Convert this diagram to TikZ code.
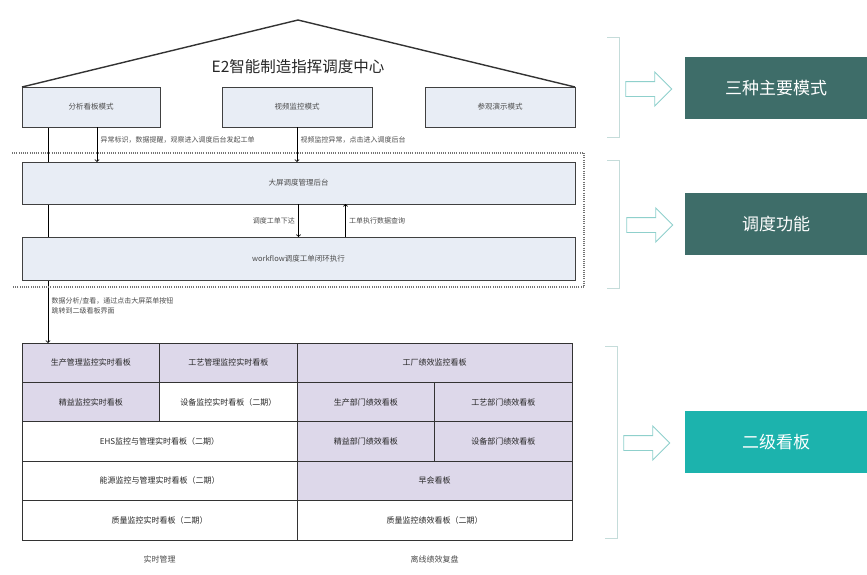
\documentclass[tikz,border=0pt]{standalone}
\usepackage{fontspec}
\setmainfont{Noto Sans CJK SC}
\usetikzlibrary{positioning, shapes.arrows, backgrounds}
\usepackage{xcolor}

\definecolor{boxblue}{HTML}{E8EDF5}
\definecolor{kanban}{HTML}{DDD8EA}
\definecolor{darkteal}{HTML}{3E6D69}
\definecolor{brightteal}{HTML}{1CB3AD}
\definecolor{paleteal}{HTML}{8FD0CC}
\definecolor{bracketgray}{HTML}{C5DCDA}

\begin{document}
\begin{tikzpicture}[x=1pt, y=-1pt,
    mode/.style={draw=black!75, line width=1pt, fill=boxblue, minimum height=40pt, inner sep=0pt, outer sep=0pt, anchor=north west, font=\fontsize{7.5}{9}\selectfont, text=black!70},
    cell/.style={draw=black!80, line width=1pt, minimum height=39.4pt, inner sep=0pt, outer sep=0pt, anchor=north west, font=\fontsize{8}{9}\selectfont, text=black!85},
    narrow/.style={cell, minimum width=137.5pt},
    wide/.style={cell, minimum width=275pt},
    lilac/.style={fill=kanban},
    note/.style={font=\fontsize{7}{10}\selectfont, text=black!70},
    tag/.style={minimum width=182pt, minimum height=62pt, text=white, font=\fontsize{17}{20}\selectfont},
    hollow/.style={single arrow, draw=paleteal, line width=0.9pt, fill=white, minimum height=46pt, minimum width=33pt, single arrow head extend=9.5pt, inner sep=7pt},
    brace/.style={draw=bracketgray, line width=0.8pt}]
    \useasboundingbox (0,0) rectangle (867,574);

    % top: three modes under the roof
    \node[mode, minimum width=138pt] (m1) at (22,87) {分析看板模式};
    \node[mode, minimum width=150pt] (m2) at (222,87) {视频监控模式};
    \node[mode, minimum width=150pt] (m3) at (425,87) {参观演示模式};
    \coordinate (apex) at (298,20);
    \draw[line width=1.4pt, black!80] (m1.north west) -- (apex) -- (m3.north east);
    \node[font=\fontsize{15.5}{18}\selectfont, text=black!85] (title) at (298,67) {E2智能制造指挥调度中心};

    % dispatch part
    \node[mode, minimum width=553pt, minimum height=42pt] (bg) at (22,162) {大屏调度管理后台};
    \node[mode, minimum width=553pt, minimum height=43pt] (wf) at (22,237) {workflow调度工单闭环执行};
    \draw[black!55, line width=1.3pt, dash pattern=on 1pt off 1.2pt] (12,153) -- (584,153) -- (584,287) -- (12,287);

    % second level boards
    \node[narrow, lilac] (g11) at (22,343) {生产管理监控实时看板};
    \node[narrow, lilac] (g12) at (g11.north east) {工艺管理监控实时看板};
    \node[wide, lilac] (g13) at (g12.north east) {工厂绩效监控看板};
    \node[narrow, lilac] (g21) at (g11.south west) {精益监控实时看板};
    \node[narrow] (g22) at (g21.north east) {设备监控实时看板（二期）};
    \node[narrow, lilac] (g23) at (g13.south west) {生产部门绩效看板};
    \node[narrow, lilac] (g24) at (g23.north east) {工艺部门绩效看板};
    \node[wide] (g31) at (g21.south west) {EHS监控与管理实时看板（二期）};
    \node[narrow, lilac] (g32) at (g23.south west) {精益部门绩效看板};
    \node[narrow, lilac] (g33) at (g32.north east) {设备部门绩效看板};
    \node[wide] (g41) at (g31.south west) {能源监控与管理实时看板（二期）};
    \node[wide, lilac] (g42) at (g32.south west) {早会看板};
    \node[wide] (g51) at (g41.south west) {质量监控实时看板（二期）};
    \node[wide] (g52) at (g42.south west) {质量监控绩效看板（二期）};
    \node[note, font=\fontsize{8}{9}\selectfont] (rt) [below=12pt of g51] {实时管理};
    \node[note, font=\fontsize{8}{9}\selectfont] (off) [below=12pt of g52] {离线绩效复盘};

    \begin{scope}[on background layer]
    \draw[->, line width=0.8pt] ([xshift=26pt]m1.south west) -- ([xshift=26pt]g11.north west)
        node[note, right, align=left, pos=.83] {数据分析/查看，通过点击大屏菜单按钮\\跳转到二级看板界面};
    \end{scope}

    \path[->, line width=0.8pt]
    ([xshift=75pt]m1.south west) edge node[note, right, pos=.37] {异常标识，数据提醒，观察进入调度后台发起工单} ([xshift=75pt]bg.north west)
    (m2.south) edge node[note, right, pos=.37] {视频监控异常，点击进入调度后台} (m2.south |- bg.north)
    (bg.south) edge node[note, left] {调度工单下达} (bg.south |- wf.north)
    ([xshift=47pt]wf.north) edge node[note, right] {工单执行数据查询} ([xshift=47pt]bg.south);

    % right side
    \node[tag, fill=darkteal] (r1) at (776,88) {三种主要模式};
    \node[tag, fill=darkteal] (r2) at (776,224) {调度功能};
    \node[tag, fill=brightteal] (r3) at (776,442) {二级看板};
    \node[hollow] (h1) at (645,89) {};
    \node[hollow] (h2) at (646,225) {};
    \node[hollow] (h3) at (643,443) {};
    \draw[brace] (607,37) -- (619,37) -- (619,137) -- (607,137);
    \draw[brace] (607,160) -- (619,160) -- (619,288) -- (607,288);
    \draw[brace] (605,346) -- (617,346) -- (617,538) -- (605,538);
\end{tikzpicture}
\end{document}
